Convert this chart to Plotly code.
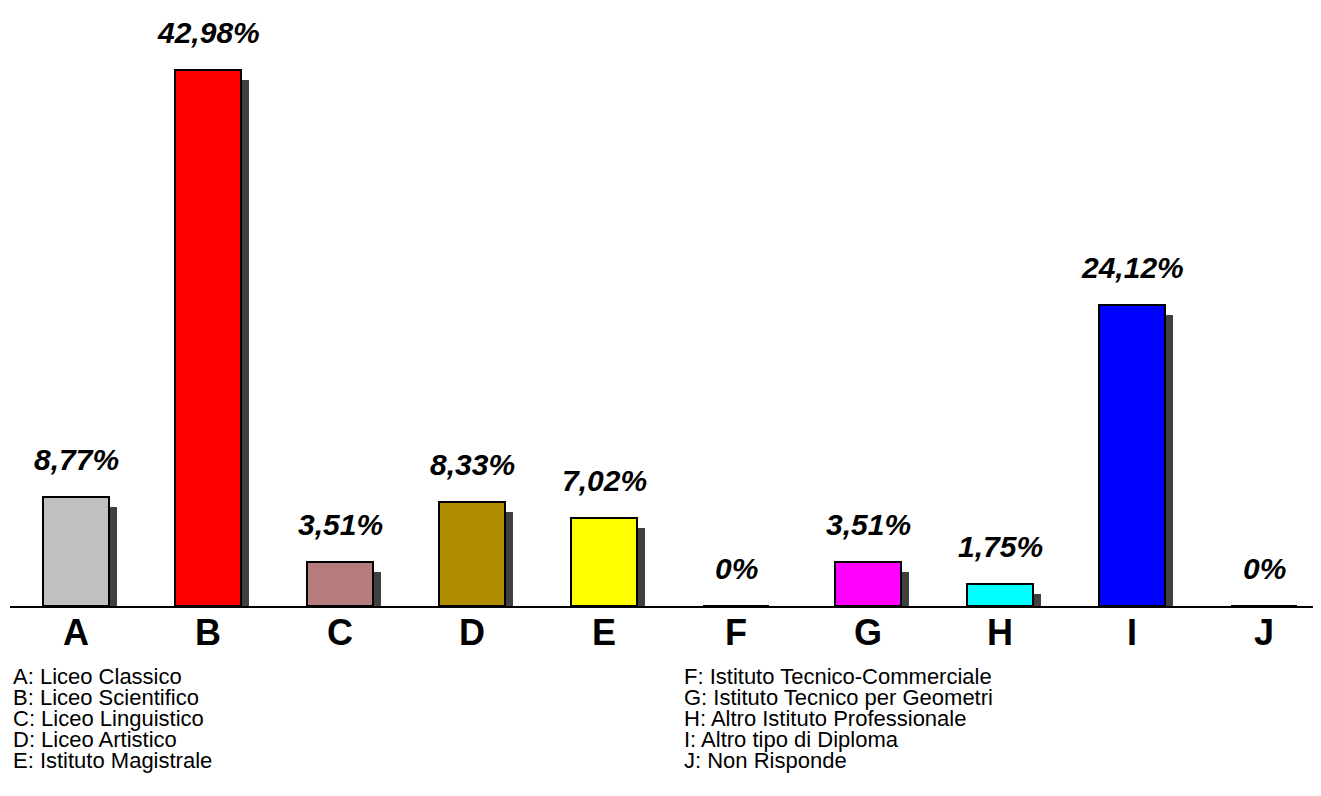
import plotly.graph_objects as go

categories = ["A", "B", "C", "D", "E", "F", "G", "H", "I", "J"]
values = [8.77, 42.98, 3.51, 8.33, 7.02, 0, 3.51, 1.75, 24.12, 0]
colors = ["#C0C0C0", "#FF0000", "#B47C7C", "#B08C00", "#FFFF00",
          "#FFFFFF", "#FF00FF", "#00FFFF", "#0000FF", "#FFFFFF"]
legend_left = ["A: Liceo Classico", "B: Liceo Scientifico", "C: Liceo Linguistico",
               "D: Liceo Artistico", "E: Istituto Magistrale"]
legend_right = ["F: Istituto Tecnico-Commerciale", "G: Istituto Tecnico per Geometri",
                "H: Altro Istituto Professionale", "I: Altro tipo di Diploma",
                "J: Non Risponde"]

def fmt(v):
    return "0%" if v == 0 else (f"{v:.2f}".replace(".", ",") + "%")

FONT = "Arial, Liberation Sans, sans-serif"
OFF = 8  # page body margin
W, H = 1321 - OFF, 796 - OFF
ML, MR, MT, MB = 2, 0, 2, 190
plot_w = W - ML - MR
plot_h = H - MT - MB
px_per_cat = 132.0
px_per_unit = 536 / 42.98
xmin = -0.5
xmax = xmin + plot_w / px_per_cat
ymax = plot_h / px_per_unit

xs = list(range(len(categories)))
bw = 0.5
sdx = 8 / px_per_cat
sdy = 10 / px_per_unit
shadow_vals = [max(v - sdy, 0) for v in values]

fig = go.Figure()
fig.add_trace(go.Bar(
    x=xs, y=shadow_vals, width=bw, offset=-bw / 2 + sdx,
    marker=dict(color="#404040", line=dict(width=0)),
    hoverinfo="skip", showlegend=False,
))
fig.add_trace(go.Bar(
    x=xs, y=values, width=bw, offset=-bw / 2,
    marker=dict(color=colors, line=dict(color="black", width=2)),
    showlegend=False,
))

for x, v in zip(xs, values):
    fig.add_annotation(
        x=x, y=v, xref="x", yref="y", text=fmt(v), showarrow=False,
        yanchor="bottom", yshift=19,
        font=dict(family=FONT, size=30, color="black", weight="bold", style="italic"),
    )

def py(pix):
    return (H - MB - (pix - OFF)) / plot_h

def pxr(pix):
    return (pix - OFF - ML) / plot_w

line_y0 = 676
for i, t in enumerate(legend_left):
    fig.add_annotation(x=pxr(11), y=py(line_y0 + 21 * i), xref="paper", yref="paper",
                       text=t, showarrow=False, xanchor="left", yanchor="middle",
                       font=dict(family=FONT, size=22, color="black"))
for i, t in enumerate(legend_right):
    fig.add_annotation(x=pxr(682), y=py(line_y0 + 21 * i), xref="paper", yref="paper",
                       text=t, showarrow=False, xanchor="left", yanchor="middle",
                       font=dict(family=FONT, size=22, color="black"))

fig.update_layout(
    width=W, height=H,
    margin=dict(l=ML, r=MR, t=MT, b=MB),
    plot_bgcolor="white", paper_bgcolor="white",
    barmode="overlay", bargap=0,
    xaxis=dict(range=[xmin, xmax], tickvals=xs, ticktext=categories,
               showline=True, linecolor="black", linewidth=2,
               showgrid=False, zeroline=False, ticks="", ticklabelstandoff=-6,
               tickfont=dict(family=FONT, size=36, color="black", weight="bold")),
    yaxis=dict(range=[0, ymax], visible=False, showgrid=False, zeroline=False),
)

fig.write_html("out.html")
